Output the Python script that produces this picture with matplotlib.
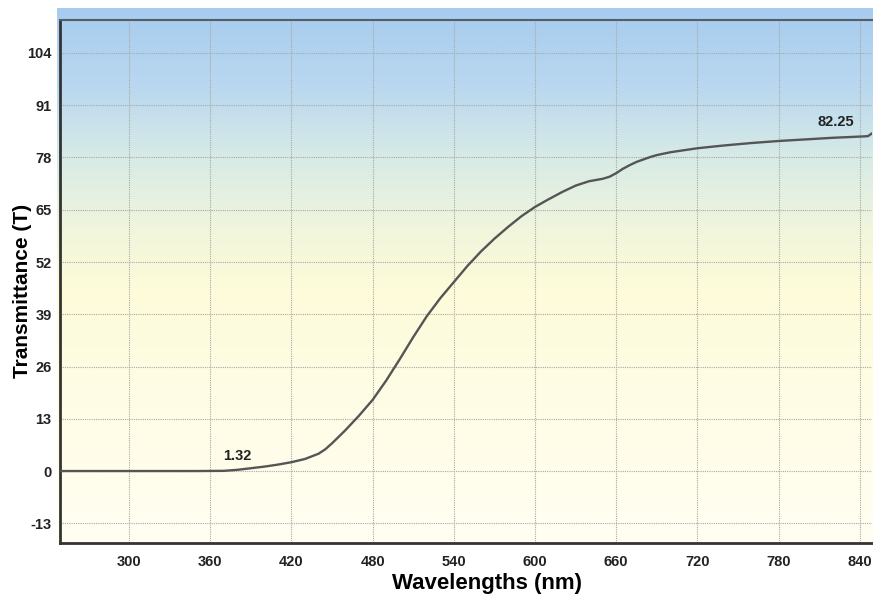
import numpy as np
import matplotlib
matplotlib.use("Agg")
import matplotlib.pyplot as plt
from matplotlib.colors import LinearSegmentedColormap

plt.rcParams['font.family'] = ['Liberation Sans', 'DejaVu Sans']
plt.rcParams['axes.unicode_minus'] = False

# spectrum (wavelength nm, transmittance)
wavelength = [250, 300, 350, 370, 380, 390, 400, 410, 420, 430, 440, 445, 450,
              460, 470, 480, 490, 500, 510, 520, 530, 540, 550, 560, 570, 580,
              590, 600, 610, 620, 630, 640, 645, 650, 655, 660, 665, 670, 675,
              680, 685, 690, 700, 720, 740, 760, 780, 800, 820, 840, 846, 849]
transmittance = [0, 0, 0, 0.05, 0.3, 0.7, 1.1, 1.6, 2.2, 3.0, 4.3, 5.4, 6.9,
                 10.2, 13.8, 17.7, 22.5, 27.8, 33.3, 38.5, 43.0, 47.0, 51.0,
                 54.6, 57.8, 60.7, 63.4, 65.7, 67.6, 69.4, 71.0, 72.1, 72.4,
                 72.7, 73.2, 74.1, 75.2, 76.1, 76.9, 77.5, 78.1, 78.6, 79.3,
                 80.3, 81.0, 81.6, 82.1, 82.5, 82.9, 83.2, 83.3, 84.0]

xticks = [300, 360, 420, 480, 540, 600, 660, 720, 780, 840]
yticks = [-13, 0, 13, 26, 39, 52, 65, 78, 91, 104]

labels = [("1.32", 380, 3.7), ("82.25", 822, 86.8)]

W, H = 873, 598
fig = plt.figure(figsize=(W / 100, H / 100), dpi=100)
fig.patch.set_facecolor('white')

# background gradient (blue -> pale green -> pale yellow -> cream)
bg = fig.add_axes([57 / W, 1 - 545 / H, (873 - 57) / W, (545 - 8) / H])
cmap = LinearSegmentedColormap.from_list('bg', [
    (0.0, '#a7ccef'),
    (0.15, '#bad8ef'),
    (0.28, '#d8ebe6'),
    (0.42, '#f2f6dc'),
    (0.52, '#fdfbd9'),
    (0.75, '#fffde6'),
    (1.0, '#fffff2')])
grad = np.linspace(0, 1, 256).reshape(-1, 1)
bg.imshow(grad, aspect='auto', cmap=cmap, extent=[0, 1, 1, 0])
bg.set_axis_off()

ax = fig.add_axes([60 / W, 1 - 543 / H, (872 - 60) / W, (543 - 20) / H])
ax.set_facecolor('none')
ax.plot(wavelength, transmittance, color='#555555', lw=1.7, zorder=3)

for txt, xx, yy in labels:
    ax.text(xx, yy, txt, ha='center', va='center', fontsize=10.5,
            fontweight='bold', color='#222222')

ax.set_xlim(249, 849)
ax.set_ylim(-17.9, 112.2)
ax.set_xticks(xticks)
ax.set_yticks(yticks)
ax.tick_params(length=0, labelsize=10.5, colors='#222222')
ax.tick_params(axis='x', pad=9)
ax.tick_params(axis='y', pad=6)
for lab in ax.get_xticklabels() + ax.get_yticklabels():
    lab.set_fontweight('bold')

ax.grid(True, color='#a6aaa6', linestyle=(0, (1, 1)), lw=0.8)
ax.set_axisbelow(True)

for side in ['left', 'bottom']:
    ax.spines[side].set_color('#333333')
    ax.spines[side].set_linewidth(2)
ax.spines['top'].set_color('#555e66')
ax.spines['top'].set_linewidth(1.5)
ax.spines['right'].set_visible(False)

ax.set_xlabel('Wavelengths (nm)', fontsize=16, fontweight='bold')
ax.set_ylabel('Transmittance (T)', fontsize=15, fontweight='bold')
ax.xaxis.set_label_coords(0.526, -0.058)
ax.yaxis.set_label_coords(-0.035, 0.482)

fig.savefig('out.png', dpi=100)
